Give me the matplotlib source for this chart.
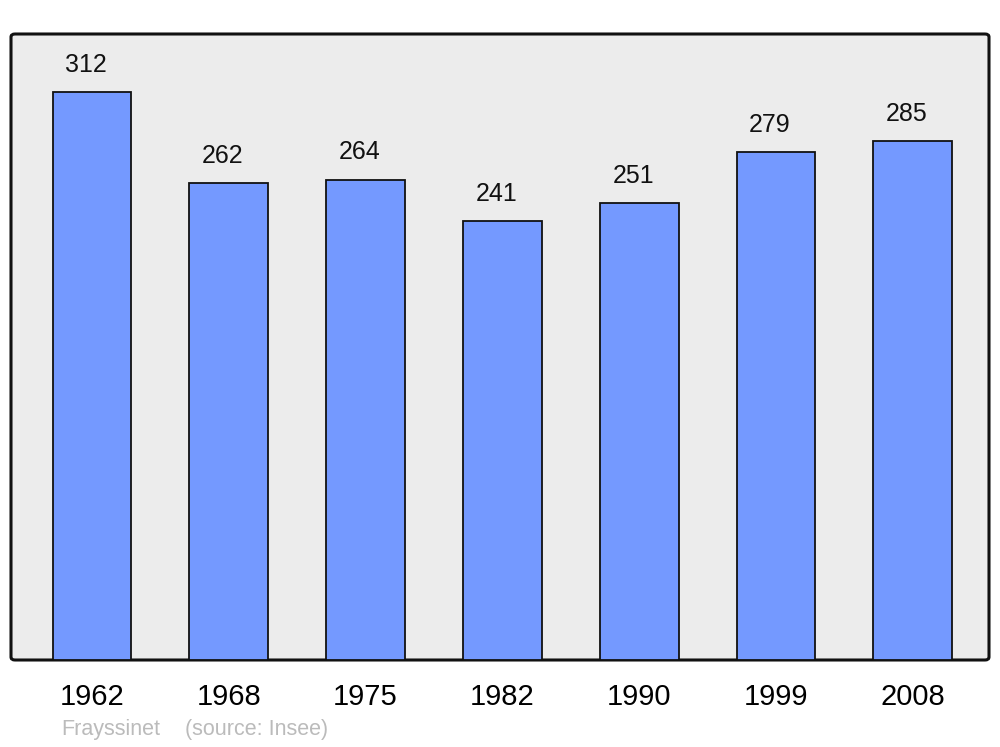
import numpy as np
import matplotlib
matplotlib.use("Agg")
from matplotlib import pyplot as plt
from matplotlib.patches import FancyBboxPatch

years = ["1962", "1968", "1975", "1982", "1990", "1999", "2008"]
population = [312, 262, 264, 241, 251, 279, 285]
town = "Frayssinet"
source = "(source: Insee)"

plt.rcParams['font.family'] = ['Liberation Sans', 'DejaVu Sans']

W, H = 1000, 747
fig = plt.figure(figsize=(W / 100, H / 100), dpi=100)

# axes box in pixels: x 11..989, y 34..660
ax = fig.add_axes([11 / W, 1 - 660 / H, 978 / W, 626 / H])
ax.set_facecolor('none')
for s in ax.spines.values():
  s.set_visible(False)

frame = FancyBboxPatch((11 / W, 1 - 660 / H), 978 / W, 626 / H,
                       boxstyle="round,pad=0,rounding_size=0.004",
                       transform=fig.transFigure, facecolor='#ececec',
                       edgecolor='#111111', linewidth=2.2, zorder=0,
                       clip_on=False)
ax.add_patch(frame)

x = np.arange(len(years))
ax.bar(x, population, width=0.575, color='#7499ff', edgecolor='#111111',
       linewidth=1.3, zorder=2)
# value labels sit a little left of the bar centre, as in the original
for xi, v in zip(x, population):
  ax.annotate(str(v), (xi, v), xytext=(-4.3, 19.5), textcoords='offset points',
              ha='center', va='center', fontsize=18, color='#111111')

ax.set_xlim(-0.592, 6.557)
ax.set_ylim(0, 344)
ax.set_yticks([])
ax.set_xticks(x)
ax.set_xticklabels(years, fontsize=21)
ax.tick_params(axis='x', length=0, pad=16.5)

fig.text(61 / W, 1 - 730 / H, town, fontsize=15.5, color='#bbbbbb', va='center')
fig.text(185 / W, 1 - 730 / H, source, fontsize=15.5, color='#bbbbbb', va='center')

fig.savefig("out.png", dpi=100)
